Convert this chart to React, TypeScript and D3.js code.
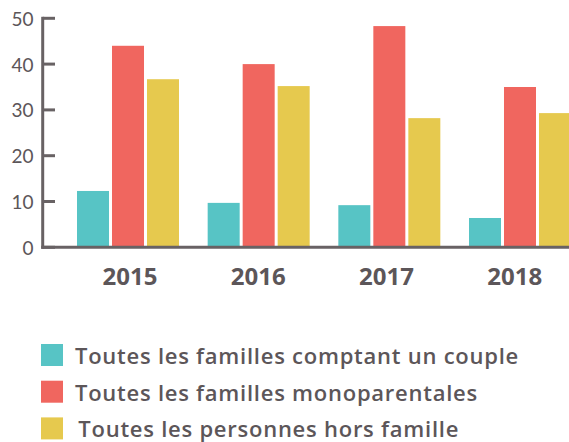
import React from "react";
import * as d3 from "d3";

const years = ["2015", "2016", "2017", "2018"];
const seriesNames = [
  "Toutes les familles comptant un couple",
  "Toutes les familles monoparentales",
  "Toutes les personnes hors famille",
];
const couple = [12.3, 9.7, 9.2, 6.4];
const monoparentales = [44, 40, 48.3, 35];
const horsFamille = [36.7, 35.2, 28.2, 29.3];
const colors = ["#57c4c5", "#f0665f", "#e6c94e"];
const yTicks = [0, 10, 20, 30, 40, 50];

const W = 569;
const H = 442;
const axisColor = "#686264";
const textColor = "#5c5659";

export default function App() {
  const values = [couple, monoparentales, horsFamille];
  const y = d3.scaleLinear().domain([0, 50]).range([247.3, 18.3]);
  const x0 = d3
    .scaleBand<string>()
    .domain(years)
    .range([62.67, 585.33])
    .paddingInner(0.2194)
    .paddingOuter(0.1097);
  const x1 = d3
    .scaleBand<number>()
    .domain([0, 1, 2])
    .range([0, x0.bandwidth()])
    .paddingInner(3 / 35)
    .paddingOuter(0);
  const xLabel = d3.scalePoint<string>().domain(years).range([130, 514.7]);
  const axisX = 42.7;

  return (
    <svg
      width={W}
      height={H}
      style={{ position: "absolute", left: 0, top: 0, background: "#fff" }}
      fontFamily="Lato, 'Open Sans', sans-serif"
    >
      {years.map((yr, i) => (
        <g key={yr} transform={`translate(${x0(yr)},0)`}>
          {values.map((s, j) => (
            <rect
              key={j}
              x={x1(j)}
              y={y(s[i])}
              width={x1.bandwidth()}
              height={y(0) - y(s[i])}
              fill={colors[j]}
            />
          ))}
        </g>
      ))}
      {/* y axis */}
      <line x1={axisX} x2={axisX} y1={y(50) - 1.5} y2={y(0) + 1.5} stroke={axisColor} strokeWidth={3} />
      <line x1={axisX - 1.5} x2={W} y1={y(0)} y2={y(0)} stroke={axisColor} strokeWidth={3} />
      {yTicks.map((t) => (
        <g key={t}>
          <line x1={axisX} x2={55} y1={y(t)} y2={y(t)} stroke={axisColor} strokeWidth={3} />
          <text x={33.5} y={y(t) + 7.5} textAnchor="end" fontSize={19} fill={textColor}>
            {t}
          </text>
        </g>
      ))}
      {years.map((yr) => (
        <text
          key={yr}
          x={xLabel(yr)}
          y={285}
          textAnchor="middle"
          fontSize={24}
          fontWeight={700}
          fontFamily="'Open Sans', sans-serif"
          fill={textColor}
        >
          {yr}
        </text>
      ))}
      {seriesNames.map((name, j) => (
        <g key={name}>
          <rect x={41} y={344 + j * 36.7} width={22} height={22} fill={colors[j]} />
          <text
            x={j === 2 ? 78.3 : 75}
            y={364.3 + j * 36.5}
            fontSize={22}
            fontWeight={600}
            letterSpacing={0.75}
            fontFamily="'Open Sans', sans-serif"
            fill={textColor}
          >
            {name}
          </text>
        </g>
      ))}
    </svg>
  );
}
